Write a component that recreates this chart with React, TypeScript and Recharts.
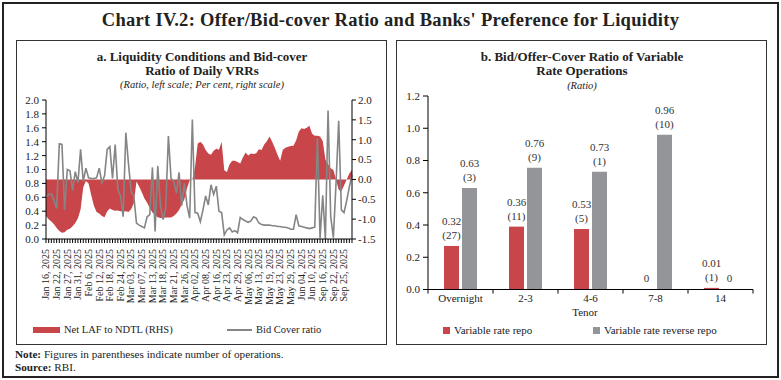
import React from 'react';
import { ComposedChart, Area, Line, XAxis, YAxis, BarChart, Bar, LabelList } from 'recharts';

const FONT = '"Liberation Serif", "Times New Roman", serif';
const RED = '#C8464A';
const GREY_LINE = '#858585';
const GREY_BAR = '#939598';

// ---------- Panel a data ----------
const dates = [
  'Jan 16', 'Jan 17', 'Jan 20', 'Jan 21', 'Jan 22', 'Jan 23', 'Jan 24', 'Jan 24',
  'Jan 27', 'Jan 28', 'Jan 29', 'Jan 30', 'Jan 31', 'Feb 3', 'Feb 4', 'Feb 5',
  'Feb 6', 'Feb 7', 'Feb 10', 'Feb 11', 'Feb 12', 'Feb 13', 'Feb 14', 'Feb 17',
  'Feb 18', 'Feb 19', 'Feb 20', 'Feb 21', 'Feb 24', 'Feb 25', 'Feb 27', 'Feb 28',
  'Mar 03', 'Mar 04', 'Mar 05', 'Mar 06', 'Mar 07', 'Mar 10', 'Mar 11', 'Mar 12',
  'Mar 13', 'Mar 15', 'Mar 16', 'Mar 17', 'Mar 18', 'Mar 19', 'Mar 20', 'Mar 20',
  'Mar 21', 'Mar 24', 'Mar 25', 'Mar 25', 'Mar 26', 'Mar 27', 'Mar 28', 'Apr 01',
  'Apr 02', 'Apr 03', 'Apr 04', 'Apr 07', 'Apr 08', 'Apr 09', 'Apr 11', 'Apr 15',
  'Apr 16', 'Apr 17', 'Apr 21', 'Apr 22', 'Apr 23', 'Apr 24', 'Apr 25', 'Apr 28',
  'Apr 29', 'Apr 30', 'May 02', 'May 05', 'May 06', 'May 07', 'May 08', 'May 09',
  'May 13', 'May 14', 'May 15', 'May 16', 'May 19', 'May 20', 'May 21', 'May 22',
  'May 23', 'May 26', 'May 27', 'May 28', 'May 29', 'May 30', 'Jun 02', 'Jun 03',
  'Jun 04', 'Jun 05', 'Jun 06', 'Jun 09', 'Jun 10', 'Jun 11', 'Jun 12', 'Sep 15',
  'Sep 16', 'Sep 17', 'Sep 18', 'Sep 19', 'Sep 22', 'Sep 23', 'Sep 24', 'Sep 24',
  'Sep 25', 'Sep 26', 'Sep 29', 'Sep 30',
];

const bidCoverRatio = [
  0.60, 0.64, 0.65, 0.56, 0.44, 1.37, 1.36, 0.42, 1.00, 0.98, 0.70, 0.97, 0.81, 1.29, 0.83, 1.02,
  0.88, 0.87, 0.87, 0.88, 1.02, 0.81, 0.91, 1.29, 1.33, 0.87, 1.36, 0.71, 0.62, 0.32, 1.53, 1.08,
  0.68, 0.62, 0.23, 0.20, 0.18, 0.16, 0.32, 0.35, 1.03, 0.11, 1.05, 0.49, 0.28, 0.45, 1.48, 0.87,
  0.83, 0.66, 0.96, 0.48, 0.80, 0.48, 0.30, 1.72, 0.38, 0.37, 0.25, 0.42, 0.62, 0.49, 0.78, 0.64,
  0.76, 0.40, 0.38, 0.06, 0.13, 0.16, 0.10, 0.12, 0.09, 0.31, 0.28, 0.26, 0.24, 0.26, 0.32, 0.30,
  0.23, 0.21, 0.20, 0.20, 0.20, 0.19, 0.19, 0.18, 0.18, 0.17, 0.17, 0.16, 0.14, 0.14, 0.35, 0.19,
  0.18, 0.17, 0.16, 0.15, 0.16, 0.17, 1.45, 0.01, 0.63, 0.00, 1.85, 0.32, 0.02, 0.80, 1.70, 0.42,
  0.38, 0.55, 0.75, 0.92,
];

const netLafToNdtl = [
  -0.92, -1.00, -1.06, -1.13, -1.22, -1.30, -1.34, -1.33, -1.27, -1.24, -1.18, -1.10, -0.98, -0.76, -0.20, -0.04,
  -0.10, -0.40, -0.66, -0.82, -0.86, -0.92, -0.95, -0.80, -0.73, -0.77, -0.79, -0.78, -0.80, -0.81, -0.80, -0.82,
  -0.75, -0.60, -0.05, -0.18, -0.32, -0.48, -0.59, -0.72, -0.83, -0.90, -0.95, -0.97, -0.97, -0.96, -0.96, -0.96,
  -0.92, -0.86, -0.77, -0.64, -0.50, -0.22, -0.02, 0.00, 0.30, 0.90, 0.95, 0.88, 0.74, 0.65, 0.62, 0.72,
  0.77, 0.75, 0.95, 0.23, 0.19, 0.38, 0.47, 0.47, 0.44, 0.40, 0.55, 0.68, 0.60, 0.65, 0.64, 0.66,
  0.76, 0.74, 0.88, 0.96, 1.08, 0.95, 0.80, 0.62, 0.47, 0.75, 0.80, 0.82, 0.84, 0.85, 0.98, 1.20,
  1.29, 1.27, 1.30, 1.35, 1.15, 1.10, 1.10, 1.08, 0.97, 0.50, 0.38, 0.28, 0.24, 0.00, -0.26, -0.30,
  -0.15, 0.00, 0.15, 0.24,
];

const leftTicks = [0, 0.2, 0.4, 0.6, 0.8, 1.0, 1.2, 1.4, 1.6, 1.8, 2.0];
const rightTicks = [-1.5, -1.0, -0.5, 0, 0.5, 1.0, 1.5, 2.0];

const leftData = dates.map((d, i) => ({ idx: i, date: `${d}, 2025`, bid: bidCoverRatio[i], laf: netLafToNdtl[i] }));

// ---------- Panel b data ----------
const tenors = ['Overnight', '2-3', '4-6', '7-8', '14'];
const repoRatio = [0.27, 0.39, 0.375, 0, 0.01];
const reverseRepoRatio = [0.63, 0.755, 0.73, 0.96, 0];
const repoLabels = ['0.32', '0.36', '0.53', '0', '0.01'];
const repoOps = ['(27)', '(11)', '(5)', '', '(1)'];
const reverseLabels = ['0.63', '0.76', '0.73', '0.96', '0'];
const reverseOps = ['(3)', '(9)', '(1)', '(10)', ''];
const barTicks = [0, 0.2, 0.4, 0.6, 0.8, 1.0, 1.2];

const rightData = tenors.map((t, i) => ({
  tenor: t, repo: repoRatio[i], rev: reverseRepoRatio[i],
  repoTxt: `${repoLabels[i]}|${repoOps[i]}`, revTxt: `${reverseLabels[i]}|${reverseOps[i]}`,
}));

const DateTick = (props: any) => {
  const { x, y, payload } = props;
  const i = Number(payload.value);
  if (i % 4 !== 0) return null;
  const ty = y + 6;
  return (
    <text x={x} y={ty} transform={`rotate(-90, ${x}, ${ty})`} textAnchor="end" dy="0.33em"
      fontSize={10} fontFamily={FONT} fill="#222">
      {leftData[i].date}
    </text>
  );
};

const TenorTick = (props: any) => {
  const { x, y, payload, index } = props;
  const half = 32.5;
  return (
    <g>
      <line x1={x - half} y1={y} x2={x - half} y2={y + 4} stroke="#000" />
      {index === tenors.length - 1 && <line x1={x + half} y1={y} x2={x + half} y2={y + 4} stroke="#000" />}
      <text x={x} y={y + 12} textAnchor="middle" fontSize={11} fontFamily={FONT} fill="#222">{payload.value}</text>
    </g>
  );
};

const BarLabel = (props: any) => {
  const { x, y, width, height, value } = props;
  const cx = Number(x) + Number(width) / 2;
  const h = Number(height) || 0;
  const top = Math.min(Number(y), Number(y) + h);
  const [v, o] = String(value).split('|');
  const style = { fontSize: 11, fontFamily: FONT, fill: '#333' } as any;
  if (o) {
    return (
      <g>
        <text x={cx} y={top - 21} textAnchor="middle" {...style}>{v}</text>
        <text x={cx} y={top - 7} textAnchor="middle" {...style}>{o}</text>
      </g>
    );
  }
  return <text x={cx} y={top - 7} textAnchor="middle" {...style}>{v}</text>;
};

const abs = (l: number, t: number, extra: any = {}) => ({ position: 'absolute' as const, left: l, top: t, ...extra });

export default function App() {
  const tickStyle = { fontSize: 11, fontFamily: FONT, fill: '#222' };
  return (
    <div style={{ position: 'absolute', left: 0, top: 0, width: 781, height: 380, background: '#fff', fontFamily: FONT, color: '#222', overflow: 'hidden' }}>
      {/* outer border */}
      <div style={abs(2, 2, { width: 773, height: 372, border: '2px solid #222' })} />
      {/* main title */}
      <div style={abs(0, 9, { width: 781, textAlign: 'center', fontSize: 18.5, fontWeight: 700, letterSpacing: 0.3, lineHeight: '22px' })}>
        Chart IV.2: Offer/Bid-cover Ratio and Banks' Preference for Liquidity
      </div>
      {/* panel boxes */}
      <div style={abs(16, 40, { width: 369, height: 303, border: '1.5px solid #333' })} />
      <div style={abs(396, 40, { width: 369, height: 303, border: '1.5px solid #333' })} />

      {/* panel a titles */}
      <div style={abs(16, 50, { width: 372, textAlign: 'center', fontSize: 13, fontWeight: 700, lineHeight: '14px' })}>
        a. Liquidity Conditions and Bid-cover<br />Ratio of Daily VRRs
      </div>
      <div style={abs(16, 79, { width: 372, textAlign: 'center', fontSize: 10.5, fontStyle: 'italic', lineHeight: '12px' })}>
        (Ratio, left scale; Per cent, right scale)
      </div>

      {/* panel b titles */}
      <div style={abs(396, 50, { width: 372, textAlign: 'center', fontSize: 13, fontWeight: 700, lineHeight: '14px' })}>
        b. Bid/Offer-Cover Ratio of Variable<br />Rate Operations
      </div>
      <div style={abs(396, 80, { width: 372, textAlign: 'center', fontSize: 10.5, fontStyle: 'italic', lineHeight: '12px' })}>
        (Ratio)
      </div>

      {/* panel a chart */}
      <div style={abs(0, 0)}>
        <ComposedChart width={390} height={340} data={leftData} margin={{ top: 100, right: 8, bottom: 31, left: 16 }}>
          <XAxis dataKey="idx" type="category" scale="point" interval={0} height={70} padding={{ left: 0, right: 0 }}
            tick={<DateTick />} tickLine={{ stroke: '#000' }} tickSize={4} tickMargin={0} axisLine={{ stroke: '#000' }} />
          <YAxis yAxisId="left" domain={[0, 2]} ticks={leftTicks} interval={0} width={30} tickSize={4} tickMargin={3}
            tickFormatter={(v: number) => v.toFixed(1)} tick={tickStyle} axisLine={{ stroke: '#000' }} tickLine={{ stroke: '#000' }} />
          <YAxis yAxisId="right" orientation="right" domain={[-1.5, 2]} ticks={rightTicks} interval={0} width={30} tickSize={4} tickMargin={2}
            tickFormatter={(v: number) => v.toFixed(1)} tick={tickStyle} axisLine={{ stroke: '#000' }} tickLine={{ stroke: '#000' }} />
          <Area yAxisId="right" dataKey="laf" type="linear" baseValue={0} fill={RED} fillOpacity={1} stroke="none" isAnimationActive={false} />
          <Line yAxisId="left" dataKey="bid" type="linear" stroke={GREY_LINE} strokeWidth={1.6} dot={false} isAnimationActive={false} />
        </ComposedChart>
      </div>

      {/* panel a legend */}
      <div style={abs(33, 327, { width: 27, height: 6, background: RED })} />
      <div style={abs(64, 323, { fontSize: 10.5, lineHeight: '14px' })}>Net LAF to NDTL (RHS)</div>
      <div style={abs(227, 329, { width: 25, height: 2, background: GREY_LINE })} />
      <div style={abs(256, 323, { fontSize: 10.5, lineHeight: '14px' })}>Bid Cover ratio</div>

      {/* panel b chart */}
      <div style={abs(390, 0)}>
        <BarChart width={380} height={345} data={rightData} margin={{ top: 96, right: 17, bottom: 30.5, left: 8 }}
          barSize={15} barGap={3} barCategoryGap={16}>
          <XAxis dataKey="tenor" height={25} interval={0} tickLine={false} tickSize={0} tickMargin={0}
            tick={<TenorTick />} axisLine={{ stroke: '#000' }} />
          <YAxis domain={[0, 1.2]} ticks={barTicks} interval={0} width={30} tickSize={5} tickMargin={3}
            tickFormatter={(v: number) => v.toFixed(1)} tick={tickStyle} axisLine={{ stroke: '#000' }} tickLine={{ stroke: '#000' }} />
          <Bar dataKey="repo" fill={RED} minPointSize={0.01} isAnimationActive={false}>
            <LabelList dataKey="repoTxt" content={<BarLabel />} />
          </Bar>
          <Bar dataKey="rev" fill={GREY_BAR} minPointSize={0.01} isAnimationActive={false}>
            <LabelList dataKey="revTxt" content={<BarLabel />} />
          </Bar>
        </BarChart>
      </div>

      <div style={abs(560, 305, { width: 50, textAlign: 'center', fontSize: 11, lineHeight: '14px' })}>Tenor</div>

      {/* panel b legend */}
      <div style={abs(443, 327, { width: 7, height: 7, background: RED })} />
      <div style={abs(454, 323, { fontSize: 11, lineHeight: '14px' })}>Variable rate repo</div>
      <div style={abs(593, 327, { width: 7, height: 7, background: GREY_BAR })} />
      <div style={abs(604, 323, { fontSize: 11, lineHeight: '14px' })}>Variable rate reverse repo</div>

      {/* notes */}
      <div style={abs(15, 348, { fontSize: 11.2, lineHeight: '13px' })}><b>Note:</b> Figures in parentheses indicate number of operations.</div>
      <div style={abs(15, 361, { fontSize: 11.2, lineHeight: '13px' })}><b>Source:</b> RBI.</div>
    </div>
  );
}
